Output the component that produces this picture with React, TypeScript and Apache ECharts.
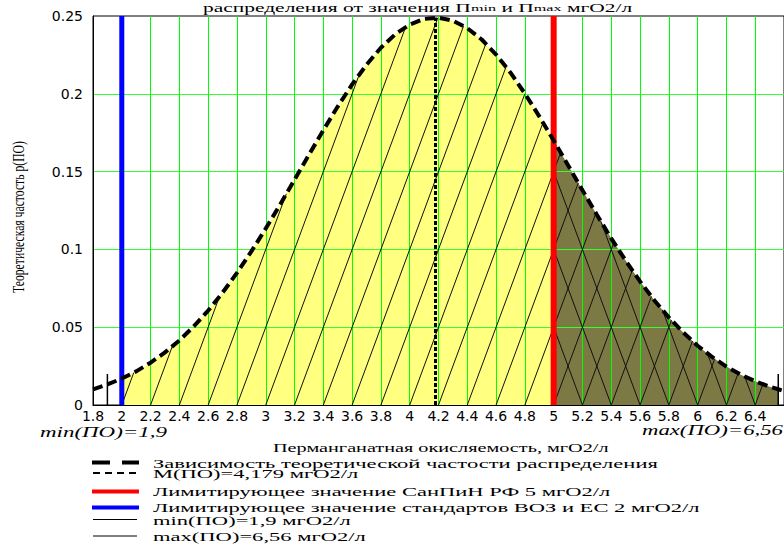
import React, { useEffect, useRef } from "react";
import * as echarts from "echarts";

// ---------------- data ----------------
const freqX = [1.8, 1.9, 2, 2.1, 2.2, 2.3, 2.4, 2.5, 2.6, 2.7, 2.8, 2.9, 3, 3.1, 3.2, 3.3, 3.4, 3.5, 3.6, 3.7, 3.8, 3.9, 4, 4.1, 4.2, 4.3, 4.4, 4.5, 4.6, 4.7, 4.8, 4.9, 5, 5.1, 5.2, 5.3, 5.4, 5.5, 5.6, 5.7, 5.8, 5.9, 6, 6.1, 6.2, 6.3, 6.4, 6.5, 6.56, 6.6];
const freqY = [0.0101, 0.0132, 0.017, 0.0216, 0.0272, 0.0338, 0.0415, 0.0505, 0.0607, 0.0722, 0.0849, 0.0987, 0.1134, 0.1289, 0.1448, 0.1608, 0.1766, 0.1918, 0.206, 0.2187, 0.2296, 0.2383, 0.2445, 0.2481, 0.2489, 0.247, 0.2422, 0.2349, 0.2252, 0.2136, 0.2002, 0.1855, 0.17, 0.1541, 0.138, 0.1223, 0.1071, 0.0928, 0.0794, 0.0672, 0.0563, 0.0466, 0.0381, 0.0309, 0.0247, 0.0195, 0.0153, 0.0118, 0.0101, 0.009];

const xAxisMin = 1.8;
const xAxisMax = 6.6;
const xAxisStep = 0.2;
const yAxisMin = 0;
const yAxisMax = 0.25;
const yAxisStep = 0.05;

const meanPO = 4.179;
const meanFreq = 0.249;
const limitWHO = 2;
const limitSanPiN = 5;
const minPO = 1.9;
const maxPO = 6.56;
const extremeMarkTop = 0.02;

const titleMain = "распределения от значения П";
const titleSub1 = "min";
const titleMid = " и П";
const titleSub2 = "max";
const titleEnd = " мгО2/л";
const xAxisName = "Перманганатная окисляемость, мгО2/л";
const yAxisName = "Теоретическая частость р(ПО)";
const minLabel = "min(ПО)=1,9";
const maxLabel = "max(ПО)=6,56";
const legendLabels = [
  "Зависимость теоретической частости распределения",
  "М(ПО)=4,179 мгО2/л",
  "Лимитирующее значение СанПиН РФ 5 мгО2/л",
  "Лимитирующее значение стандартов ВОЗ и ЕС 2 мгО2/л",
  "min(ПО)=1,9 мгО2/л",
  "max(ПО)=6,56 мгО2/л",
];

// ---------------- helpers ----------------
function textWidth(text: string, font: string): number {
  const ctx = document.createElement("canvas").getContext("2d");
  if (!ctx) return text.length * 7;
  ctx.font = font;
  return ctx.measureText(text).width;
}

// hatch segments (data space) clipped under the curve
function hatch(slope: number, feet: number[], lo: number, hi: number): number[][] {
  const out: number[][] = [];
  for (const foot of feet) {
    let a = lo;
    let b = hi;
    if (slope > 0) a = Math.max(a, foot);
    else b = Math.min(b, foot);
    if (b - a < 1e-9) continue;
    const L = (x: number) => slope * (x - foot);
    const segs: number[][] = [];
    let cur: number[] | null = null;
    for (let i = 0; i < freqX.length - 1; i++) {
      const x1 = freqX[i];
      const x2 = freqX[i + 1];
      const sa = Math.max(a, x1);
      const sb = Math.min(b, x2);
      if (sb - sa < 1e-9) continue;
      const f = (x: number) => freqY[i] + ((freqY[i + 1] - freqY[i]) * (x - x1)) / (x2 - x1);
      const da = f(sa) - L(sa);
      const db = f(sb) - L(sb);
      let s0: number | null = null;
      let s1: number | null = null;
      if (da >= 0 && db >= 0) {
        s0 = sa;
        s1 = sb;
      } else if (da >= 0) {
        s0 = sa;
        s1 = sa + ((sb - sa) * da) / (da - db);
      } else if (db >= 0) {
        s0 = sa + ((sb - sa) * da) / (da - db);
        s1 = sb;
      }
      if (s0 === null || s1 === null) {
        if (cur) {
          segs.push(cur);
          cur = null;
        }
        continue;
      }
      if (cur && Math.abs(cur[1] - s0) < 1e-9) cur[1] = s1;
      else {
        if (cur) segs.push(cur);
        cur = [s0, s1];
      }
    }
    if (cur) segs.push(cur);
    for (const s of segs) {
      if (s[1] - s[0] < 0.004) continue;
      out.push([s[0], L(s[0]), s[1], L(s[1])]);
    }
  }
  return out;
}

export default function App() {
  const ref = useRef<HTMLDivElement>(null);

  useEffect(() => {
    if (!ref.current) return;
    const chart = echarts.init(ref.current, undefined, { renderer: "svg" });

    const curve = freqX.map((x, i) => [x, freqY[i]]);
    const yellow = curve.filter((p) => p[0] >= limitWHO - 1e-9 && p[0] <= limitSanPiN + 1e-9);
    const olive = curve.filter((p) => p[0] >= limitSanPiN - 1e-9 && p[0] <= maxPO + 1e-9);

    const nFeet = Math.round((xAxisMax - xAxisMin) / xAxisStep);
    const feet = Array.from({ length: nFeet + 1 }, (_, k) => +(xAxisMin + k * xAxisStep).toFixed(4));
    const slope = yAxisStep / xAxisStep;
    const hatchData = [
      ...hatch(slope, feet, limitWHO, maxPO),
      ...hatch(-slope, feet, limitSanPiN, maxPO),
    ];

    const serif = "'Liberation Serif', 'Times New Roman', serif";
    const legendFont = `13.5px ${serif}`;
    const legendScale = 407 / textWidth("Зависимость теоретической частости расп", legendFont);
    const xNameFont = `13.5px ${serif}`;
    const xNameScale = 287 / textWidth("Перманганатная окисляемость, м", xNameFont);
    const italicFont = `italic 14px ${serif}`;
    const minScale = 127 / textWidth(minLabel, italicFont);
    const maxScale = 141 / textWidth(maxLabel, italicFont);
    const yNameFont = `17px ${serif}`;
    const yNameScale = 152 / textWidth(yAxisName, yNameFont);
    const titleFont = `12px ${serif}`;
    const titleScale = 268 / textWidth(titleMain, titleFont);

    const legendRows = [
      { ly: 462.5, ty: 463, stroke: "#000", lw: 4, dash: [18, 12] as number[] | null, x1: 92, x2: 139 },
      { ly: 473, ty: 473.5, stroke: "#000", lw: 2, dash: [7, 5] as number[] | null, x1: 93, x2: 137 },
      { ly: 491.5, ty: 491, stroke: "#ff0000", lw: 4, dash: null, x1: 92, x2: 139 },
      { ly: 507.5, ty: 507, stroke: "#0000ff", lw: 4, dash: null, x1: 92, x2: 139 },
      { ly: 519.5, ty: 520, stroke: "#000", lw: 1, dash: null, x1: 93, x2: 137 },
      { ly: 536, ty: 536, stroke: "#000", lw: 1, dash: null, x1: 93, x2: 137 },
    ];

    const graphics: any[] = [];
    legendRows.forEach((r, i) => {
      const style: any = { stroke: r.stroke, lineWidth: r.lw };
      if (r.dash) style.lineDash = r.dash;
      graphics.push({ type: "line", z: 10, silent: true, shape: { x1: r.x1, y1: r.ly, x2: r.x2, y2: r.ly }, style });
      graphics.push({
        type: "text", z: 10, silent: true, x: 153, y: r.ty, scaleX: legendScale,
        style: { text: legendLabels[i], font: legendFont, fill: "#000", textAlign: "left", verticalAlign: "middle" },
      });
    });
    graphics.push({
      type: "text", z: 10, silent: true, x: 273, y: 447.5, scaleX: xNameScale,
      style: { text: xAxisName, font: xNameFont, fill: "#000", textAlign: "left", verticalAlign: "middle" },
    });
    graphics.push({
      type: "text", z: 10, silent: true, x: 18.5, y: 217, rotation: Math.PI / 2, scaleX: yNameScale,
      style: { text: yAxisName, font: yNameFont, fill: "#000", textAlign: "center", verticalAlign: "middle" },
    });
    graphics.push({
      type: "text", z: 10, silent: true, x: 40, y: 432, scaleX: minScale,
      style: { text: minLabel, font: italicFont, fill: "#000", textAlign: "left", verticalAlign: "middle" },
    });
    graphics.push({
      type: "text", z: 10, silent: true, x: 642, y: 430, scaleX: maxScale,
      style: { text: maxLabel, font: italicFont, fill: "#000", textAlign: "left", verticalAlign: "middle" },
    });
    graphics.push({
      type: "text", z: 10, silent: true, x: 203, y: 8, scaleX: titleScale,
      style: {
        text: `{n|${titleMain}}{s|${titleSub1}}{n|${titleMid}}{s|${titleSub2}}{n|${titleEnd}}`,
        textAlign: "left", verticalAlign: "middle",
        rich: {
          n: { fontFamily: serif, fontSize: 12, lineHeight: 14, fill: "#000" },
          s: { fontFamily: serif, fontSize: 9, lineHeight: 14, fill: "#000" },
        },
      },
    });

    const vline = (x: number, top: number, color: string, width: number, type: any, z: number) => ({
      type: "line", data: [[x, 0], [x, top]], symbol: "none", silent: true, z,
      lineStyle: { color, width, type, cap: "butt" },
    });

    const option: any = {
      animation: false,
      backgroundColor: "#ffffff",
      grid: { left: 93, top: 16, width: 694, height: 389, show: true, borderColor: "#000", borderWidth: 1, backgroundColor: "transparent" },
      xAxis: {
        type: "value", min: xAxisMin, max: xAxisMax, interval: xAxisStep, z: 2,
        axisLine: { show: true, lineStyle: { color: "#000", width: 1 } },
        axisTick: { show: false },
        axisLabel: { showMaxLabel: false, color: "#000", fontFamily: "DejaVu Sans", fontSize: 14, margin: 4 },
        splitLine: { show: true, showMinLine: false, showMaxLine: false, lineStyle: { color: "#00ff00", width: 1 } },
      },
      yAxis: {
        type: "value", min: yAxisMin, max: yAxisMax, interval: yAxisStep, z: 2,
        axisLine: { show: true, lineStyle: { color: "#000", width: 1 } },
        axisTick: { show: false },
        axisLabel: { color: "#000", fontFamily: "DejaVu Sans", fontSize: 14, margin: 10 },
        splitLine: { show: true, showMinLine: false, showMaxLine: false, lineStyle: { color: "#33ff33", width: 1 } },
      },
      graphic: graphics,
      series: [
        {
          type: "line", data: yellow, symbol: "none", silent: true, z: 1,
          lineStyle: { width: 0 }, areaStyle: { color: "#ffff80", opacity: 1 },
        },
        {
          type: "line", data: olive, symbol: "none", silent: true, z: 1,
          lineStyle: { width: 0 }, areaStyle: { color: "#7c7944", opacity: 1 },
        },
        {
          type: "custom", coordinateSystem: "cartesian2d", data: hatchData, silent: true, z: 3,
          encode: { x: [0, 2], y: [1, 3] },
          renderItem: (_p: any, api: any) => {
            const p1 = api.coord([api.value(0), api.value(1)]);
            const p2 = api.coord([api.value(2), api.value(3)]);
            return {
              type: "line",
              shape: { x1: p1[0], y1: p1[1], x2: p2[0], y2: p2[1] },
              style: { stroke: "#111", lineWidth: 1 },
            };
          },
        },
        vline(limitWHO, yAxisMax, "#0000ff", 5, "solid", 4),
        vline(limitSanPiN, yAxisMax, "#ff0000", 6, "solid", 4),
        vline(meanPO, meanFreq, "#000", 3, [4, 2], 4),
        vline(minPO, extremeMarkTop, "#000", 1.5, "solid", 4),
        vline(maxPO, extremeMarkTop, "#000", 1.5, "solid", 4),
        {
          type: "line", data: curve, symbol: "none", silent: true, z: 5,
          lineStyle: { color: "#000", width: 4, type: [10, 5], cap: "butt" },
        },
      ],
    };

    chart.setOption(option);
    return () => chart.dispose();
  }, []);

  return (
    <div
      ref={ref}
      style={{ position: "fixed", left: 0, top: 0, width: 784, height: 544, background: "#fff" }}
    />
  );
}
